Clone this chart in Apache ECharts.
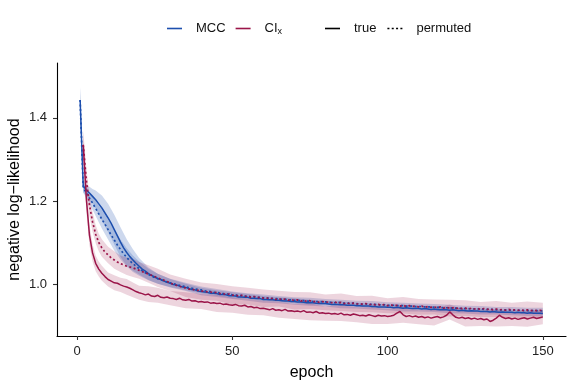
<!DOCTYPE html>
<html>
<head>
<meta charset="utf-8">
<script src="https://cdn.jsdelivr.net/npm/echarts@6/dist/echarts.min.js"></script>
<style>
  html, body { margin: 0; padding: 0; background: #fff; }
  #chart { width: 581px; height: 388px; }
</style>
</head>
<body>
<div id="chart"></div>
<script>
// mean negative log-likelihood per epoch (1..150); CI series have no epoch 1
const mccTrue = [
  1.443, 1.236, 1.226, 1.219, 1.211, 1.203, 1.193, 1.183, 1.171, 1.159,
  1.146, 1.131, 1.116, 1.101, 1.087, 1.076, 1.066, 1.058, 1.050, 1.043,
  1.036, 1.031, 1.025, 1.021, 1.017, 1.013, 1.011, 1.007, 1.004, 1.002,
  0.999, 0.998, 0.995, 0.993, 0.992, 0.989, 0.987, 0.986, 0.983, 0.982,
  0.981, 0.980, 0.978, 0.978, 0.977, 0.975, 0.975, 0.974, 0.972, 0.972,
  0.971, 0.969, 0.969, 0.968, 0.968, 0.966, 0.966, 0.965, 0.965, 0.963,
  0.963, 0.962, 0.962, 0.961, 0.961, 0.960, 0.959, 0.959, 0.958, 0.958,
  0.957, 0.957, 0.956, 0.955, 0.955, 0.955, 0.954, 0.953, 0.953, 0.953,
  0.952, 0.951, 0.951, 0.951, 0.950, 0.950, 0.949, 0.949, 0.949, 0.948,
  0.948, 0.947, 0.947, 0.947, 0.946, 0.946, 0.945, 0.945, 0.945, 0.944,
  0.944, 0.943, 0.944, 0.943, 0.942, 0.943, 0.942, 0.941, 0.942, 0.941,
  0.940, 0.941, 0.940, 0.939, 0.940, 0.939, 0.938, 0.939, 0.938, 0.937,
  0.938, 0.937, 0.936, 0.937, 0.936, 0.935, 0.936, 0.935, 0.935, 0.934,
  0.934, 0.934, 0.933, 0.934, 0.933, 0.932, 0.933, 0.932, 0.932, 0.932,
  0.931, 0.932, 0.931, 0.931, 0.930, 0.931, 0.930, 0.930, 0.930, 0.929
];
const mccPermuted = [
  1.443, 1.232, 1.219, 1.207, 1.195, 1.182, 1.169, 1.156, 1.144, 1.131,
  1.118, 1.106, 1.094, 1.083, 1.073, 1.064, 1.056, 1.049, 1.043, 1.037,
  1.032, 1.027, 1.023, 1.019, 1.016, 1.013, 1.010, 1.008, 1.005, 1.003,
  1.001, 0.999, 0.997, 0.995, 0.994, 0.991, 0.990, 0.988, 0.987, 0.986,
  0.984, 0.983, 0.982, 0.980, 0.980, 0.978, 0.977, 0.977, 0.975, 0.974,
  0.974, 0.972, 0.972, 0.971, 0.971, 0.969, 0.969, 0.968, 0.968, 0.967,
  0.966, 0.966, 0.965, 0.965, 0.964, 0.963, 0.963, 0.962, 0.962, 0.961,
  0.961, 0.960, 0.960, 0.959, 0.959, 0.958, 0.958, 0.958, 0.957, 0.957,
  0.956, 0.956, 0.955, 0.956, 0.955, 0.954, 0.954, 0.953, 0.954, 0.953,
  0.952, 0.952, 0.952, 0.951, 0.951, 0.951, 0.950, 0.950, 0.950, 0.949,
  0.949, 0.949, 0.948, 0.948, 0.948, 0.947, 0.947, 0.947, 0.946, 0.946,
  0.946, 0.945, 0.945, 0.945, 0.944, 0.944, 0.944, 0.943, 0.943, 0.943,
  0.942, 0.942, 0.942, 0.941, 0.941, 0.941, 0.940, 0.940, 0.940, 0.940,
  0.939, 0.939, 0.939, 0.939, 0.938, 0.938, 0.938, 0.938, 0.937, 0.937,
  0.937, 0.937, 0.937, 0.936, 0.936, 0.936, 0.936, 0.936, 0.936, 0.935
];
const ciTrue = [
  null, 1.335, 1.205, 1.118, 1.075, 1.050, 1.036, 1.026, 1.018, 1.011,
  1.007, 1.003, 1.002, 0.998, 0.995, 0.993, 0.990, 0.986, 0.982, 0.979,
  0.977, 0.974, 0.976, 0.971, 0.970, 0.973, 0.968, 0.967, 0.969, 0.966,
  0.965, 0.963, 0.966, 0.962, 0.961, 0.963, 0.959, 0.960, 0.957, 0.958,
  0.956, 0.957, 0.954, 0.955, 0.953, 0.954, 0.951, 0.952, 0.950, 0.949,
  0.951, 0.948, 0.947, 0.949, 0.945, 0.946, 0.943, 0.944, 0.941, 0.942,
  0.940, 0.938, 0.941, 0.937, 0.938, 0.936, 0.939, 0.935, 0.936, 0.934,
  0.935, 0.933, 0.936, 0.932, 0.933, 0.931, 0.934, 0.930, 0.931, 0.929,
  0.930, 0.928, 0.929, 0.927, 0.930, 0.926, 0.927, 0.925, 0.928, 0.926,
  0.924, 0.925, 0.923, 0.926, 0.924, 0.922, 0.925, 0.923, 0.924, 0.922,
  0.923, 0.925, 0.930, 0.934, 0.926, 0.922, 0.924, 0.921, 0.923, 0.920,
  0.922, 0.919, 0.921, 0.918, 0.920, 0.922, 0.919, 0.921, 0.925, 0.933,
  0.926, 0.920, 0.918, 0.920, 0.917, 0.919, 0.916, 0.918, 0.915, 0.917,
  0.914, 0.916, 0.910, 0.913, 0.918, 0.925, 0.920, 0.917, 0.919, 0.916,
  0.918, 0.915, 0.917, 0.919, 0.916, 0.918, 0.920, 0.917, 0.919, 0.921
];
const ciPermuted = [
  null, 1.335, 1.250, 1.190, 1.150, 1.120, 1.100, 1.087, 1.077, 1.070,
  1.063, 1.058, 1.053, 1.049, 1.046, 1.043, 1.041, 1.039, 1.036, 1.033,
  1.030, 1.027, 1.024, 1.021, 1.018, 1.015, 1.012, 1.009, 1.006, 1.003,
  0.999, 0.997, 0.995, 0.992, 0.991, 0.988, 0.988, 0.985, 0.985, 0.983,
  0.983, 0.981, 0.981, 0.979, 0.980, 0.977, 0.977, 0.975, 0.976, 0.973,
  0.974, 0.971, 0.973, 0.970, 0.971, 0.968, 0.970, 0.967, 0.968, 0.966,
  0.967, 0.964, 0.966, 0.963, 0.965, 0.962, 0.964, 0.961, 0.963, 0.960,
  0.962, 0.959, 0.961, 0.958, 0.960, 0.957, 0.959, 0.956, 0.958, 0.956,
  0.957, 0.955, 0.957, 0.954, 0.956, 0.953, 0.955, 0.952, 0.954, 0.952,
  0.953, 0.951, 0.953, 0.950, 0.952, 0.950, 0.951, 0.949, 0.951, 0.948,
  0.950, 0.948, 0.949, 0.947, 0.949, 0.946, 0.948, 0.946, 0.947, 0.945,
  0.947, 0.944, 0.946, 0.944, 0.945, 0.943, 0.945, 0.942, 0.944, 0.942,
  0.943, 0.941, 0.943, 0.941, 0.942, 0.940, 0.942, 0.940, 0.941, 0.939,
  0.941, 0.939, 0.940, 0.938, 0.940, 0.938, 0.939, 0.937, 0.939, 0.937,
  0.938, 0.937, 0.938, 0.936, 0.938, 0.936, 0.937, 0.936, 0.937, 0.936
];

// ribbon half-widths, read at these epochs
const ribbonEpochs = [1, 2, 3, 4, 5, 6, 7, 8, 10, 12, 14, 16, 18, 20, 23, 26, 30, 35, 40, 45,
  50, 55, 60, 65, 70, 75, 80, 85, 90, 95, 100, 105, 110, 115, 120, 125, 130, 135, 140, 145, 150];
const mccTrueSpread = [0.032, 0.015, 0.013, 0.015, 0.018, 0.022, 0.026, 0.030, 0.034, 0.036,
  0.036, 0.032, 0.026, 0.020, 0.015, 0.012, 0.010, 0.009, 0.009, 0.008,
  0.008, 0.008, 0.008, 0.007, 0.008, 0.007, 0.007, 0.008, 0.007, 0.007,
  0.007, 0.008, 0.007, 0.007, 0.007, 0.007, 0.007, 0.006, 0.007, 0.007, 0.007];
const mccPermutedSpread = [0.030, 0.012, 0.012, 0.014, 0.016, 0.018, 0.020, 0.022, 0.024, 0.025,
  0.024, 0.022, 0.020, 0.017, 0.014, 0.012, 0.010, 0.009, 0.008, 0.008,
  0.008, 0.007, 0.008, 0.007, 0.007, 0.008, 0.007, 0.007, 0.007, 0.008,
  0.007, 0.007, 0.007, 0.008, 0.007, 0.007, 0.007, 0.007, 0.008, 0.007, 0.008];
const ciTrueSpread = [null, 0.032, 0.030, 0.025, 0.021, 0.019, 0.018, 0.018, 0.017, 0.018,
  0.017, 0.019, 0.018, 0.017, 0.019, 0.018, 0.017, 0.019, 0.018, 0.020,
  0.018, 0.019, 0.017, 0.019, 0.018, 0.020, 0.017, 0.019, 0.018, 0.020,
  0.018, 0.019, 0.017, 0.020, 0.018, 0.019, 0.018, 0.020, 0.017, 0.019, 0.018];
const ciPermutedSpread = [null, 0.034, 0.030, 0.026, 0.024, 0.022, 0.021, 0.021, 0.020, 0.021,
  0.020, 0.021, 0.022, 0.020, 0.021, 0.022, 0.020, 0.022, 0.021, 0.020,
  0.022, 0.020, 0.021, 0.019, 0.021, 0.020, 0.019, 0.021, 0.019, 0.020,
  0.018, 0.020, 0.019, 0.018, 0.020, 0.019, 0.018, 0.019, 0.018, 0.020, 0.019];

const xTicks = [0, 50, 100, 150];
const yTicks = [1.0, 1.2, 1.4];

const BLUE = '#1d4fae';
const RED = '#9b1549';
const DOTS = [2, 2.5];

// legend glyphs: a short solid bar and a row of dots
const ICON_SOLID = 'path://M0,0h15v1.6h-15z';
const ICON_DOTTED = 'path://M0,0h2v1.6h-2z M4.3,0h2v1.6h-2z M8.6,0h2v1.6h-2z M12.9,0h2v1.6h-2z';

const epochs = mccTrue.map((_, i) => i + 1);
const pairs = vals => epochs.map((e, i) => [e, vals[i]]).filter(p => p[1] != null);

// ribbon polygon rows [epoch, lo, hi]
function ribbonRows(mean, spread) {
  const rows = [];
  ribbonEpochs.forEach((e, i) => {
    const m = mean[e - 1];
    if (m == null || spread[i] == null) return;
    rows.push([e, m - spread[i], m + spread[i]]);
  });
  return rows;
}

function ribbonSeries(rows, color, alpha) {
  return {
    type: 'custom',
    silent: true,
    z: 1,
    data: rows,
    encode: { x: 0, y: [1, 2] },
    renderItem: function (params, api) {
      if (params.dataIndex !== 0) return;
      const top = rows.map(r => api.coord([r[0], r[2]]));
      const bot = rows.map(r => api.coord([r[0], r[1]])).reverse();
      return {
        type: 'polygon',
        shape: { points: top.concat(bot) },
        style: { fill: color, opacity: alpha }
      };
    }
  };
}

function lineSeries(name, vals, color, dotted) {
  return {
    name: name,
    type: 'line',
    data: pairs(vals),
    symbol: 'none',
    z: 3,
    lineStyle: { color: color, width: dotted ? 1.7 : 1.5, type: dotted ? DOTS : 'solid' },
    itemStyle: { color: color }
  };
}

function legendDummy(name, color) {
  return { name: name, type: 'line', data: [], symbol: 'none', itemStyle: { color: color } };
}

const chart = echarts.init(document.getElementById('chart'));
const FONT = '"Liberation Sans", Arial, sans-serif';

const legendText = {
  fontSize: 13, color: '#111', padding: [0, 0, 0, 9],
  rich: { sub: { fontSize: 9, color: '#111', padding: [7, 0, 0, 0] } }
};

chart.setOption({
  animation: false,
  textStyle: { fontFamily: FONT },
  grid: { left: 57, right: 15, top: 63, bottom: 52, containLabel: false, outerBoundsMode: 'none' },
  legend: [
    {
      data: [{ name: 'MCC', icon: ICON_SOLID }, { name: 'CIx', icon: ICON_SOLID }],
      left: 167, top: 22, padding: 0,
      itemWidth: 15, itemHeight: 2, itemGap: 10,
      selectedMode: false,
      formatter: n => n === 'CIx' ? 'CI{sub|x}' : n,
      textStyle: legendText
    },
    {
      data: [{ name: 'true', icon: ICON_SOLID }, { name: 'permuted', icon: ICON_DOTTED }],
      left: 325, top: 22, padding: 0,
      itemWidth: 15, itemHeight: 2, itemGap: 11,
      selectedMode: false,
      textStyle: legendText
    }
  ],
  xAxis: {
    type: 'value',
    min: -6.45, max: 157.45,
    name: 'epoch',
    nameLocation: 'middle',
    nameGap: 29,
    nameMoveOverlap: false,
    nameTextStyle: { fontSize: 16, color: '#000' },
    axisLine: { onZero: false, lineStyle: { color: '#000', width: 1.1 } },
    axisTick: { customValues: xTicks, length: 4, lineStyle: { color: '#333', width: 1.1 } },
    axisLabel: { customValues: xTicks, fontSize: 13, color: '#222', margin: 9 },
    splitLine: { show: false }
  },
  yAxis: {
    type: 'value',
    min: 0.875, max: 1.532,
    name: 'negative log\u2212likelihood',
    nameLocation: 'middle',
    nameGap: 34,
    nameMoveOverlap: false,
    nameTextStyle: { fontSize: 16, color: '#000' },
    axisLine: { show: true, onZero: false, lineStyle: { color: '#000', width: 1.1 } },
    axisTick: { show: true, customValues: yTicks, length: 4, lineStyle: { color: '#333', width: 1.1 } },
    axisLabel: { customValues: yTicks, fontSize: 13, color: '#222', margin: 10, formatter: v => v.toFixed(1) },
    splitLine: { show: false }
  },
  series: [
    ribbonSeries(ribbonRows(mccTrue, mccTrueSpread), BLUE, 0.22),
    ribbonSeries(ribbonRows(mccPermuted, mccPermutedSpread), BLUE, 0.22),
    ribbonSeries(ribbonRows(ciTrue, ciTrueSpread), RED, 0.18),
    ribbonSeries(ribbonRows(ciPermuted, ciPermutedSpread), RED, 0.18),
    lineSeries('MCC true', mccTrue, BLUE, false),
    lineSeries('MCC permuted', mccPermuted, BLUE, true),
    lineSeries('CIx true', ciTrue, RED, false),
    lineSeries('CIx permuted', ciPermuted, RED, true),
    legendDummy('MCC', BLUE),
    legendDummy('CIx', RED),
    legendDummy('true', '#000'),
    legendDummy('permuted', '#000')
  ]
});
</script>
</body>
</html>
